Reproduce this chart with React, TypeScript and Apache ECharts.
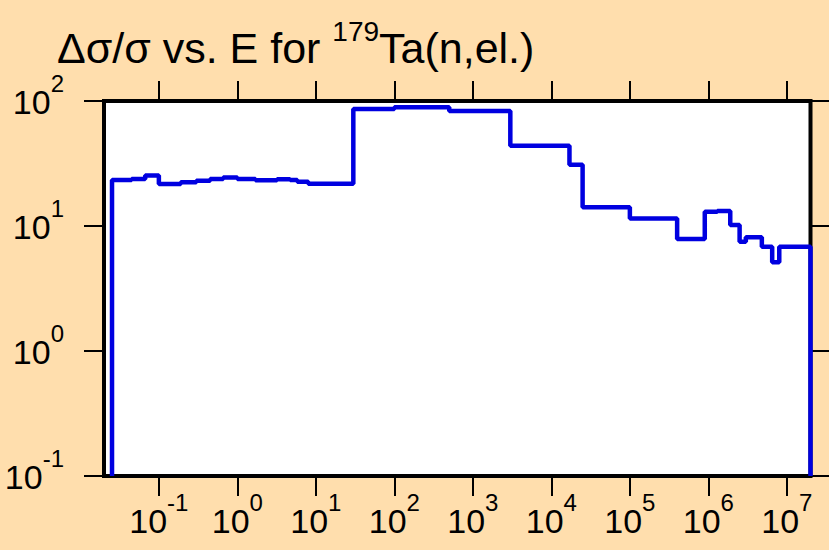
import React, { useEffect, useRef } from "react";
import * as echarts from "echarts";

// Bin edges in eV and relative uncertainty (%) per bin
const edgesEV: number[] = [
  0.0253, 0.045, 0.067, 0.1, 0.19, 0.3, 0.45, 0.66, 1.0, 1.7, 3.2, 4.7, 5.8, 8.0,
  30, 100, 500, 3000, 17000, 25000, 1e5, 4e5, 9e5, 1.3e6, 1.9e6, 2.5e6, 3e6,
  4.8e6, 6.5e6, 8e6, 2e7,
];
const relUncPct: number[] = [
  23.3, 23.8, 25.3, 21.7, 22.4, 23.0, 23.8, 24.4, 23.8, 23.2, 23.7, 23.3, 22.6,
  21.8, 86.3, 89.1, 83.2, 43.8, 30.9, 14.1, 11.5, 7.87, 13.0, 13.2, 10.2, 7.49,
  8.12, 6.83, 5.13, 6.83,
];
const xTickExponents: number[] = [-1, 0, 1, 2, 3, 4, 5, 6, 7];
const yTickExponents: number[] = [-1, 0, 1, 2];
const xMinEV = 0.02;
const xMaxEV = 2e7;
const yMin = 0.1;
const yMax = 100;

const FONT = "'Liberation Sans', Arial, Helvetica, sans-serif";

export default function App() {
  const ref = useRef<HTMLDivElement>(null);
  useEffect(() => {
    if (!ref.current) return;
    const chart = echarts.init(ref.current, undefined, { renderer: "svg" });
    const L = Math.log10;
    const pts: number[][] = [];
    pts.push([L(edgesEV[0]), L(yMin)]);
    for (let i = 0; i < relUncPct.length; i++) {
      pts.push([L(edgesEV[i]), L(relUncPct[i])]);
    }
    pts.push([L(edgesEV[edgesEV.length - 1]), L(relUncPct[relUncPct.length - 1])]);
    pts.push([L(edgesEV[edgesEV.length - 1]), L(yMin)]);

    const rich = {
      b: { fontSize: 34, lineHeight: 48, verticalAlign: "bottom", fontFamily: FONT, fontWeight: "normal", color: "#000" },
      s: { fontSize: 24, lineHeight: 18, verticalAlign: "top", fontFamily: FONT, fontWeight: "normal", color: "#000" },
    };
    const fmt = (v: number) => `{b|10}{s|${Math.round(v)}}`;
    const tick = { show: true, length: 20, lineStyle: { color: "#000", width: 2 } };
    const noLine = { show: false, onZero: false };

    chart.setOption({
      animation: false,
      backgroundColor: "#FFDEAD",
      title: {
        text: "{a|Δσ/σ vs. E for }{s|179}{a|Ta(n,el.)}",
        left: 57,
        top: 17,
        padding: 0,
        textStyle: {
          fontWeight: "normal",
          rich: {
            a: { fontSize: 43, lineHeight: 52, verticalAlign: "bottom", fontFamily: FONT, fontWeight: "normal", color: "#000" },
            s: { fontSize: 28, lineHeight: 27, verticalAlign: "top", fontFamily: FONT, fontWeight: "normal", color: "#000" },
          },
        },
      },
      grid: {
        left: 104,
        right: 18.5,
        top: 101,
        bottom: 74,
        show: true,
        backgroundColor: "#ffffff",
        borderColor: "#000",
        borderWidth: 4,
      },
      xAxis: [
        {
          type: "value",
          position: "bottom",
          min: L(xMinEV),
          max: L(xMaxEV),
          axisLine: noLine,
          splitLine: { show: false },
          axisTick: { ...tick, customValues: xTickExponents },
          axisLabel: { customValues: xTickExponents, formatter: fmt, rich, margin: 14 },
        },
        {
          type: "value",
          position: "top",
          min: L(xMinEV),
          max: L(xMaxEV),
          axisLine: noLine,
          splitLine: { show: false },
          axisTick: { ...tick, customValues: xTickExponents },
          axisLabel: { show: false },
        },
      ],
      yAxis: [
        {
          type: "value",
          position: "left",
          min: L(yMin),
          max: L(yMax),
          interval: 1,
          axisLine: noLine,
          splitLine: { show: false },
          axisTick: { ...tick, customValues: yTickExponents },
          axisLabel: {
            customValues: yTickExponents,
            formatter: fmt,
            rich,
            margin: 40,
            padding: [0, 0, 12, 0],
          },
        },
        {
          type: "value",
          position: "right",
          min: L(yMin),
          max: L(yMax),
          interval: 1,
          axisLine: noLine,
          splitLine: { show: false },
          axisTick: { ...tick, customValues: yTickExponents },
          axisLabel: { show: false },
        },
      ],
      series: [
        {
          type: "line",
          step: "end",
          data: pts,
          showSymbol: false,
          clip: false,
          lineStyle: { color: "#0000E0", width: 4.5 },
          z: 5,
        },
      ],
    });
    return () => chart.dispose();
  }, []);
  return (
    <div
      ref={ref}
      style={{ position: "fixed", left: 0, top: 0, width: 829, height: 550 }}
    />
  );
}
